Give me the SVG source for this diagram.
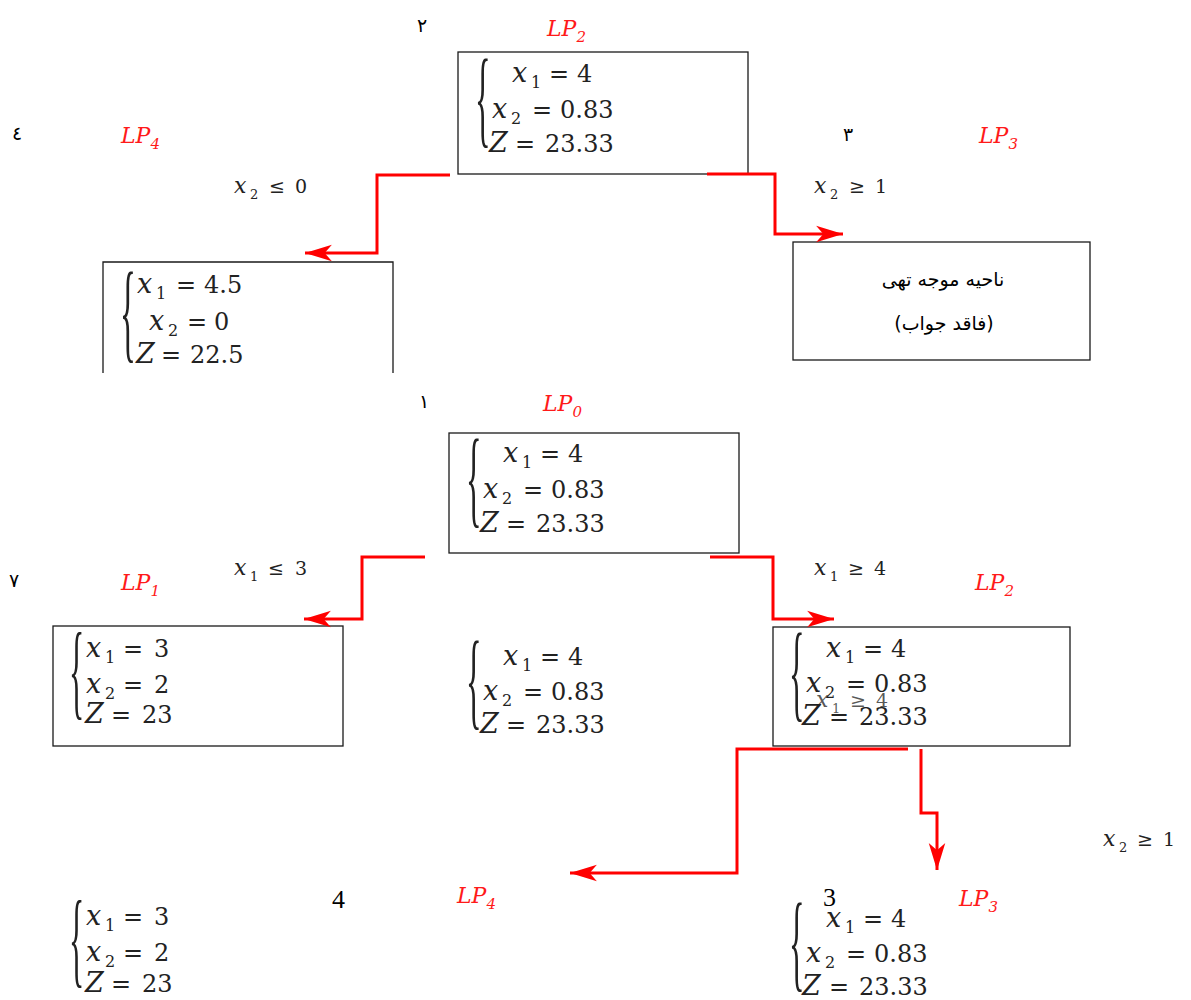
<svg xmlns="http://www.w3.org/2000/svg" width="1191" height="1000" viewBox="0 0 1191 1000">
<style>
.box{fill:none;stroke:#1a1a1a;stroke-width:1.3}
.con{fill:none;stroke:#ff0000;stroke-width:3;marker-end:url(#arr)}
.m{font-family:"DejaVu Serif",serif;font-size:24px;fill:#222}
.i{font-style:italic;font-size:27px}
.s{font-size:16px}
.br{font-family:"Liberation Serif",serif;fill:#222}
.lp{font-family:"DejaVu Serif",serif;font-style:italic;font-size:22px;fill:#ff1a1a}
.lps{font-size:15px}
.c{font-family:"DejaVu Serif",serif;font-size:19px;fill:#222}
.ci{font-style:italic;font-size:22px}
.cs{font-size:13px}
.n{font-family:"DejaVu Sans",sans-serif;font-size:19px;fill:#000}
.d{font-family:"Liberation Serif",serif;font-size:26px;fill:#000}
.fa{font-family:"DejaVu Sans","Noto Sans",sans-serif;font-size:19px;fill:#000}
</style>
<defs>
<marker id="arr" markerUnits="userSpaceOnUse" markerWidth="30" markerHeight="20" viewBox="-27 -9 29 18" refX="0" refY="0" orient="auto">
<path d="M0,0 L-26,-8 L-19,0 L-26,8 Z" fill="#ff0000"/>
</marker>
</defs>

<!-- labels -->
<g id="labels">
<text class="n" x="417" y="32">٢</text>
<text class="n" x="12" y="140">٤</text>
<text class="n" x="843" y="141">٣</text>
<text class="n" x="419" y="408">١</text>
<text class="n" x="9" y="587">٧</text>
<text class="d" x="823" y="906">3</text>
<text class="d" x="332" y="908">4</text>

<text class="lp" x="547" y="36">LP<tspan class="lps" dy="6">2</tspan></text>
<text class="lp" x="121" y="143">LP<tspan class="lps" dy="6">4</tspan></text>
<text class="lp" x="979" y="143">LP<tspan class="lps" dy="6">3</tspan></text>
<text class="lp" x="543" y="411">LP<tspan class="lps" dy="6">0</tspan></text>
<text class="lp" x="121" y="590">LP<tspan class="lps" dy="6">1</tspan></text>
<text class="lp" x="975" y="590">LP<tspan class="lps" dy="6">2</tspan></text>
<text class="lp" x="959" y="906">LP<tspan class="lps" dy="6">3</tspan></text>
<text class="lp" x="457" y="903">LP<tspan class="lps" dy="6">4</tspan></text>

<text class="c"><tspan class="ci" x="234" y="193">x</tspan><tspan class="cs" x="250" y="199">2</tspan><tspan x="269" y="193">≤</tspan><tspan x="295" y="193">0</tspan></text>
<text class="c"><tspan class="ci" x="814" y="193">x</tspan><tspan class="cs" x="830" y="199">2</tspan><tspan x="849" y="193">≥</tspan><tspan x="875" y="193">1</tspan></text>
<text class="c"><tspan class="ci" x="234" y="575">x</tspan><tspan class="cs" x="250" y="581">1</tspan><tspan x="268" y="575">≤</tspan><tspan x="295" y="575">3</tspan></text>
<text class="c"><tspan class="ci" x="814" y="575">x</tspan><tspan class="cs" x="830" y="581">1</tspan><tspan x="848" y="575">≥</tspan><tspan x="874" y="575">4</tspan></text>
<text class="c"><tspan class="ci" x="1103" y="846">x</tspan><tspan class="cs" x="1119" y="852">2</tspan><tspan x="1137" y="846">≥</tspan><tspan x="1163" y="846">1</tspan></text>
<text class="c" fill-opacity="0.75"><tspan class="ci" x="816" y="707">x</tspan><tspan class="cs" x="832" y="713">1</tspan><tspan x="850" y="707">≥</tspan><tspan x="876" y="707">4</tspan></text>
</g>

<!-- top LP2 node -->
<g id="node-top-lp2">
<rect class="box" x="458" y="52" width="290" height="122"/>
<text class="br" font-size="108" transform="translate(475,134) scale(0.3,1)">{</text>
<text class="m"><tspan class="i" x="512" y="82">x</tspan><tspan class="s" x="531" y="88">1</tspan><tspan x="549" y="82">=</tspan><tspan x="577" y="82">4</tspan></text>
<text class="m"><tspan class="i" x="492" y="118">x</tspan><tspan class="s" x="511" y="124">2</tspan><tspan x="532" y="118">=</tspan><tspan x="560" y="118">0.83</tspan></text>
<text class="m"><tspan class="i" x="489" y="152">Z</tspan><tspan x="515" y="152">=</tspan><tspan x="545" y="152">23.33</tspan></text>
</g>

<!-- top LP4 node -->
<g id="node-top-lp4">
<path class="box" d="M103,373 V262 H393 V373"/>
<text class="br" font-size="110" transform="translate(120,348) scale(0.3,1)">{</text>
<text class="m"><tspan class="i" x="137" y="293">x</tspan><tspan class="s" x="156" y="299">1</tspan><tspan x="176" y="293">=</tspan><tspan x="204" y="293">4.5</tspan></text>
<text class="m"><tspan class="i" x="149" y="330">x</tspan><tspan class="s" x="168" y="336">2</tspan><tspan x="187" y="330">=</tspan><tspan x="214" y="330">0</tspan></text>
<text class="m"><tspan class="i" x="136" y="363">Z</tspan><tspan x="161" y="363">=</tspan><tspan x="190" y="363">22.5</tspan></text>
</g>

<!-- top LP3 node -->
<g id="node-top-lp3">
<rect class="box" x="793" y="242" width="297" height="118"/>
<text class="fa" x="943" y="286" text-anchor="middle" direction="rtl">ناحیه موجه تهی</text>
<text class="fa" x="944" y="330" text-anchor="middle" direction="rtl">(فاقد جواب)</text>
</g>

<!-- LP0 node -->
<g id="node-lp0">
<rect class="box" x="449" y="433" width="290" height="120"/>
<text class="br" font-size="108" transform="translate(466,514) scale(0.3,1)">{</text>
<text class="m"><tspan class="i" x="503" y="462">x</tspan><tspan class="s" x="522" y="468">1</tspan><tspan x="540" y="462">=</tspan><tspan x="568" y="462">4</tspan></text>
<text class="m"><tspan class="i" x="483" y="498">x</tspan><tspan class="s" x="502" y="504">2</tspan><tspan x="523" y="498">=</tspan><tspan x="551" y="498">0.83</tspan></text>
<text class="m"><tspan class="i" x="480" y="532">Z</tspan><tspan x="506" y="532">=</tspan><tspan x="536" y="532">23.33</tspan></text>
</g>

<!-- LP1 node -->
<g id="node-lp1">
<rect class="box" x="53" y="626" width="290" height="120"/>
<text class="br" font-size="106" transform="translate(69,706) scale(0.3,1)">{</text>
<text class="m"><tspan class="i" x="86" y="657">x</tspan><tspan class="s" x="105" y="663">1</tspan><tspan x="123" y="657">=</tspan><tspan x="154" y="657">3</tspan></text>
<text class="m"><tspan class="i" x="86" y="693">x</tspan><tspan class="s" x="105" y="699">2</tspan><tspan x="123" y="693">=</tspan><tspan x="154" y="693">2</tspan></text>
<text class="m"><tspan class="i" x="85" y="723">Z</tspan><tspan x="111" y="723">=</tspan><tspan x="142" y="723">23</tspan></text>
</g>

<!-- middle unboxed node -->
<g id="node-mid">
<text class="br" font-size="108" transform="translate(466,716) scale(0.3,1)">{</text>
<text class="m"><tspan class="i" x="503" y="665">x</tspan><tspan class="s" x="522" y="671">1</tspan><tspan x="540" y="665">=</tspan><tspan x="568" y="665">4</tspan></text>
<text class="m"><tspan class="i" x="483" y="700">x</tspan><tspan class="s" x="502" y="706">2</tspan><tspan x="523" y="700">=</tspan><tspan x="551" y="700">0.83</tspan></text>
<text class="m"><tspan class="i" x="480" y="733">Z</tspan><tspan x="506" y="733">=</tspan><tspan x="536" y="733">23.33</tspan></text>
</g>

<!-- LP2 node -->
<g id="node-lp2">
<rect class="box" x="773" y="627" width="297" height="119"/>
<text class="br" font-size="108" transform="translate(789,708) scale(0.3,1)">{</text>
<text class="m"><tspan class="i" x="826" y="657">x</tspan><tspan class="s" x="845" y="663">1</tspan><tspan x="863" y="657">=</tspan><tspan x="891" y="657">4</tspan></text>
<text class="m"><tspan class="i" x="806" y="692">x</tspan><tspan class="s" x="825" y="698">2</tspan><tspan x="846" y="692">=</tspan><tspan x="874" y="692">0.83</tspan></text>
<text class="m"><tspan class="i" x="802" y="725">Z</tspan><tspan x="829" y="725">=</tspan><tspan x="859" y="725">23.33</tspan></text>
</g>

<!-- bottom left node -->
<g id="node-bottom-lp4">
<text class="br" font-size="106" transform="translate(69,974) scale(0.3,1)">{</text>
<text class="m"><tspan class="i" x="86" y="925">x</tspan><tspan class="s" x="105" y="931">1</tspan><tspan x="123" y="925">=</tspan><tspan x="154" y="925">3</tspan></text>
<text class="m"><tspan class="i" x="86" y="961">x</tspan><tspan class="s" x="105" y="967">2</tspan><tspan x="123" y="961">=</tspan><tspan x="154" y="961">2</tspan></text>
<text class="m"><tspan class="i" x="85" y="992">Z</tspan><tspan x="111" y="992">=</tspan><tspan x="142" y="992">23</tspan></text>
</g>

<!-- bottom right node -->
<g id="node-bottom-lp3">
<text class="br" font-size="108" transform="translate(789,978) scale(0.3,1)">{</text>
<text class="m"><tspan class="i" x="826" y="927">x</tspan><tspan class="s" x="845" y="933">1</tspan><tspan x="863" y="927">=</tspan><tspan x="891" y="927">4</tspan></text>
<text class="m"><tspan class="i" x="806" y="962">x</tspan><tspan class="s" x="825" y="968">2</tspan><tspan x="846" y="962">=</tspan><tspan x="874" y="962">0.83</tspan></text>
<text class="m"><tspan class="i" x="802" y="995">Z</tspan><tspan x="829" y="995">=</tspan><tspan x="859" y="995">23.33</tspan></text>
</g>

<!-- connectors -->
<g id="connectors">
<path class="con" d="M450,175 H377 V253 H305"/>
<path class="con" d="M707,174 H775 V234 H843"/>
<path class="con" d="M425,557 H362 V619 H304"/>
<path class="con" d="M710,557 H773 V619 H834"/>
<path class="con" d="M908,749 H737 V873 H570"/>
<path class="con" d="M921,749 V813 H937 V870"/>
</g>
</svg>
